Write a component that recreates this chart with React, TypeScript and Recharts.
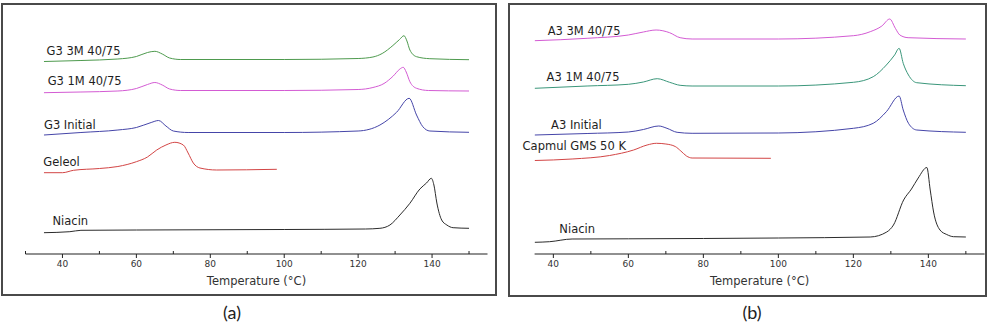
import React from "react";
import { LineChart, Line, XAxis, YAxis, ReferenceDot } from "recharts";

// DSC thermograms, heat flow in arbitrary (offset) units vs temperature in °C
const g3ThreeMonth = [[35, 192.5], [45, 193.5], [55, 195], [60, 197.5], [63, 201.5], [65, 202.7], [67, 200], [69, 196], [72, 194.5], [100, 194.5], [120, 195.5], [124, 197], [126.5, 200.5], [129.4, 208.5], [131.2, 214.5], [132.4, 218.3], [133.2, 213], [134, 204], [135.8, 197.3], [139.4, 195.3], [150, 194.3]];
const g3OneMonth = [[35, 161.3], [45, 162], [55, 163], [60, 165.5], [63, 169.5], [65, 171.5], [67, 169], [69, 165], [72, 163.5], [100, 163.5], [120, 164.5], [124, 166.5], [127, 170.5], [129.5, 178], [131.3, 185], [132.2, 186.7], [133, 182], [134, 172.3], [135.8, 165.7], [139, 163.5], [150, 163]];
const g3Initial = [[35, 119], [45, 121.5], [55, 124], [60, 126.5], [64, 131.5], [66, 133.5], [68, 128], [70, 123], [74, 121.5], [100, 121.5], [120, 123], [125.9, 129], [130.4, 141.7], [133.8, 155.7], [135.8, 139], [137.5, 127.3], [139.4, 123], [150, 121.7]];
const geleol = [[35, 81.3], [40, 81.3], [43, 83.7], [50, 85.5], [55, 87.5], [60, 92.3], [63, 97], [65.5, 104], [68, 109], [70.4, 111.7], [72.7, 109], [74, 101], [75.4, 91], [77.2, 86], [81.7, 84], [98, 84.7]];
const niacinA = [[35, 21.3], [42, 22.3], [45, 23.7], [60, 24], [100, 24.5], [122, 25], [125.9, 25.7], [128.6, 29], [131.3, 39], [134, 50.7], [136.7, 65], [138.5, 71], [139.8, 75.7], [140.5, 69], [141.3, 51], [142.6, 34], [144, 29], [145.7, 26.3], [150, 25.7]];

const a3ThreeMonth = [[35, 213.3], [49, 215.7], [60, 219], [64, 222], [67.4, 224], [71, 221.3], [73.8, 216.3], [77, 215], [100, 215], [120, 218.3], [124.5, 222.3], [127.6, 228], [129.7, 235], [131.2, 225.7], [132.4, 219], [134.6, 216.3], [150, 215]];
const a3OneMonth = [[35, 165.7], [49, 168], [60, 169.7], [64, 172], [67.7, 175.3], [71, 171.7], [73.8, 168.7], [77, 168], [100, 168], [120, 171.7], [125.3, 177.3], [128.8, 189], [131, 199], [132.2, 205.7], [133.3, 190.7], [134.7, 179], [136.9, 171.3], [150, 168.3]];
const a3Initial = [[35, 119], [49, 120.5], [60, 122], [64, 124.5], [68.1, 128], [70.3, 125.7], [73, 121.7], [77, 120.7], [100, 121], [120, 125.7], [125.3, 130.7], [128.8, 142.3], [132.2, 158], [133.3, 144], [134.7, 130.7], [136.9, 124], [150, 121.7]];
const capmul = [[35, 93.5], [45, 95], [55, 98.5], [61.4, 104], [65, 109], [67.5, 110.7], [70, 110], [72.5, 107.5], [74, 103], [75.5, 98], [77, 96], [98, 95.7]];
const niacinB = [[35, 11.7], [39, 12.3], [45, 15], [60, 15.2], [100, 16], [124.5, 17], [128.9, 22], [130.7, 29], [133.4, 54], [135.5, 65], [137.3, 76], [139.6, 86.5], [140.5, 64], [141.4, 42], [143.1, 24], [144.9, 19.5], [146.7, 17.3], [150, 17]];

const ticksA = [30, 40, 50, 60, 70, 80, 90, 100, 110, 120, 130, 140, 150];
const ticksB = [40, 50, 60, 70, 80, 90, 100, 110, 120, 130, 140, 150];

const seriesA = [
  { name: "G3 3M 40/75", rows: g3ThreeMonth, color: "#4e9a4e", label: [35.7, 203.5] },
  { name: "G3 1M 40/75", rows: g3OneMonth, color: "#d35bd3", label: [36, 173] },
  { name: "G3 Initial", rows: g3Initial, color: "#4545a8", label: [35, 129] },
  { name: "Geleol", rows: geleol, color: "#d24545", label: [34.8, 92] },
  { name: "Niacin", rows: niacinA, color: "#2b2b2b", label: [37.3, 33] },
];

const seriesB = [
  { name: "A3 3M 40/75", rows: a3ThreeMonth, color: "#d35bd3", label: [38.5, 223.5] },
  { name: "A3 1M 40/75", rows: a3OneMonth, color: "#3a967a", label: [38.2, 177] },
  { name: "A3 Initial", rows: a3Initial, color: "#4545a8", label: [39.4, 129.5] },
  { name: "Capmul GMS 50 K", rows: capmul, color: "#d24545", label: [31.8, 108.2] },
  { name: "Niacin", rows: niacinB, color: "#2b2b2b", label: [41.6, 24.8] },
];

const FONT = "'DejaVu Sans', Arial, sans-serif";

const toPoints = (rows: number[][]) => rows.map(([t, v]) => ({ t, v }));

// major ticks hang below the axis with a label, minor ones stick up
function TempTick(props: any) {
  const { x, y, payload } = props;
  const major = payload.value % 20 === 0;
  return (
    <g>
      <line x1={x} x2={x} y1={y} y2={major ? y + 4 : y - 3} stroke="#222" strokeWidth={1} />
      {major && (
        <text x={x} y={y + 10} textAnchor="middle" dominantBaseline="central" fontSize={9} fill="#333" fontFamily={FONT}>
          {payload.value}
        </text>
      )}
    </g>
  );
}

type Series = { name: string; rows: number[][]; color: string; label: number[] };

function Thermogram({ series, domain, ticks, left, right }: { series: Series[]; domain: number[]; ticks: number[]; left: number; right: number }) {
  return (
    <LineChart width={500} height={300} margin={{ top: 10, right, left, bottom: 6 }}>
      <XAxis
        type="number"
        dataKey="t"
        domain={domain}
        ticks={ticks}
        allowDataOverflow
        height={40}
        tickSize={0}
        tickMargin={0}
        tickLine={false}
        tick={<TempTick />}
        axisLine={{ stroke: "#222", strokeWidth: 1.2 }}
        label={{ value: "Temperature (°C)", position: "insideBottom", offset: 9, fontSize: 11.5, fill: "#333", fontFamily: FONT }}
      />
      <YAxis hide type="number" domain={[0, 244]} allowDataOverflow />
      {series.map((s) => (
        <Line
          key={s.name}
          data={toPoints(s.rows)}
          dataKey="v"
          type="monotone"
          stroke={s.color}
          strokeWidth={1}
          dot={false}
          isAnimationActive={false}
        />
      ))}
      {series.map((s) => (
        <ReferenceDot
          key={"lbl-" + s.name}
          x={s.label[0]}
          y={s.label[1]}
          r={0}
          ifOverflow="visible"
          shape={(p: any) => (
            <text x={p.cx} y={p.cy} dominantBaseline="central" fontSize={11.5} fill="#1e1e1e" fontFamily={FONT}>
              {s.name}
            </text>
          )}
        />
      ))}
    </LineChart>
  );
}

const frame: React.CSSProperties = {
  position: "absolute",
  border: "2px solid #4a4a4a",
  boxSizing: "border-box",
};

const caption: React.CSSProperties = {
  position: "absolute",
  width: 60,
  textAlign: "center",
  fontFamily: "Lato, 'Open Sans', sans-serif",
  fontSize: 18,
  lineHeight: "20px",
  color: "#222",
};

export default function App() {
  return (
    <div style={{ position: "absolute", left: 0, top: 0, width: 1000, height: 330, background: "#fff", overflow: "hidden" }}>
      <div style={{ ...frame, left: 1, top: 3, width: 496, height: 293 }} />
      <div style={{ ...frame, left: 508, top: 3, width: 479, height: 294 }} />
      <div style={{ position: "absolute", left: 0, top: 0 }}>
        <Thermogram series={seriesA} domain={[30, 155]} ticks={ticksA} left={25.5} right={12.5} />
      </div>
      <div style={{ position: "absolute", left: 500, top: 0 }}>
        <Thermogram series={seriesB} domain={[35, 155]} ticks={ticksB} left={34.6} right={15.4} />
      </div>
      <div style={{ ...caption, left: 202, top: 302 }}>(a)</div>
      <div style={{ ...caption, left: 722, top: 302 }}>(b)</div>
    </div>
  );
}
